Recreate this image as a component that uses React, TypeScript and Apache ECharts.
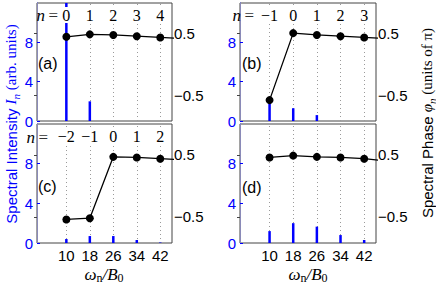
import React, { useEffect, useRef } from "react";
import * as echarts from "echarts";

// ---- data ----
const omega = [10, 18, 26, 34, 42];
const omegaPhase = [10, 18, 26, 34, 42, 50]; // last point lies beyond the axis and is clipped
const xTicks = [10, 18, 26, 34, 42];
const leftTicks = [0, 4, 8];
const rightTicks = [-0.5, 0.5];

const intensityA = [12, 2.0, 0, 0, 0];
const intensityB = [1.8, 1.3, 0.6, 0, 0];
const intensityC = [0.4, 0.7, 0.7, 0.3, 0.05];
const intensityD = [1.2, 2.0, 1.65, 0.8, 0.3];

const phaseA = [0.45, 0.49, 0.48, 0.46, 0.44, 0.42];
const phaseB = [-0.58, 0.51, 0.48, 0.46, 0.44, 0.42];
const phaseC = [-0.54, -0.52, 0.47, 0.46, 0.44, 0.42];
const phaseD = [0.46, 0.49, 0.47, 0.46, 0.44, 0.4];

const nLabelsA = ["0", "1", "2", "3", "4"];
const nLabelsB = ["\u22121", "0", "1", "2", "3"];
const nLabelsC = ["\u22122", "\u22121", "0", "1", "2"];
const nLabelsD: string[] = [];

const panelLetters = ["(a)", "(b)", "(c)", "(d)"];

const BLUE = "#0000ff";
const SANS = "Liberation Sans, Arial, sans-serif";
const SERIF = "Liberation Serif, Times New Roman, serif";

const panels = [
  { grid: { left: 37, top: 3, width: 135, height: 118 }, intensity: intensityA, phase: phaseA, n: nLabelsA, showX: false },
  { grid: { left: 240, top: 3, width: 136, height: 118 }, intensity: intensityB, phase: phaseB, n: nLabelsB, showX: false },
  { grid: { left: 37, top: 124, width: 135, height: 119 }, intensity: intensityC, phase: phaseC, n: nLabelsC, showX: true },
  { grid: { left: 240, top: 124, width: 136, height: 119 }, intensity: intensityD, phase: phaseD, n: nLabelsD, showX: true },
];

function buildOption() {
  const grid: any[] = [];
  const xAxis: any[] = [];
  const yAxis: any[] = [];
  const series: any[] = [];
  const graphic: any[] = [];

  panels.forEach((p, i) => {
    grid.push({
      ...p.grid,
      show: true,
      borderColor: "#444",
      borderWidth: 1,
      backgroundColor: "#fff",
      containLabel: false,
    });
    xAxis.push({
      type: "value",
      gridIndex: i,
      min: 0,
      max: 46,
      position: "bottom",
      axisLine: { show: false },
      axisTick: { show: false },
      splitLine: { show: false },
      axisLabel: {
        show: p.showX,
        customValues: xTicks,
        color: "#000",
        fontSize: 15,
        fontFamily: SANS,
        margin: 5,
      },
    });
    xAxis.push({
      type: "value",
      gridIndex: i,
      min: 0,
      max: 46,
      position: "top",
      axisLine: { show: false },
      axisTick: { show: false },
      splitLine: { show: false },
      axisLabel: {
        show: p.n.length > 0,
        inside: true,
        customValues: xTicks,
        formatter: (v: number) => {
          const k = xTicks.indexOf(v);
          return k >= 0 && p.n[k] !== undefined ? p.n[k] : "";
        },
        color: "#000",
        fontSize: 16,
        fontFamily: SERIF,
        backgroundColor: "#fff",
        padding: [0, 1, 0, 1],
        margin: 4,
      },
      z: 10,
    });
    yAxis.push({
      type: "value",
      gridIndex: i,
      min: 0,
      max: 12,
      position: "left",
      axisLine: { show: true, lineStyle: { color: "#3a3aff", width: 1 } },
      axisTick: { show: true, inside: true, length: 3, customValues: leftTicks, lineStyle: { color: BLUE } },
      splitLine: { show: false },
      axisLabel: {
        customValues: leftTicks,
        color: BLUE,
        fontSize: 15,
        fontFamily: SANS,
        margin: 4,
      },
    });
    yAxis.push({
      type: "value",
      gridIndex: i,
      min: -0.92,
      max: 1.0,
      position: "right",
      axisLine: { show: true, lineStyle: { color: "#8a8ab8", width: 1 } },
      axisTick: { show: true, inside: true, length: 3, customValues: rightTicks, lineStyle: { color: "#444" } },
      splitLine: { show: false },
      axisLabel: {
        customValues: rightTicks,
        formatter: (v: number) => (v < 0 ? "\u22120.5" : "0.5"),
        color: "#000",
        fontSize: 15,
        fontFamily: SANS,
        margin: 2,
      },
    });

    series.push({
      type: "bar",
      xAxisIndex: 2 * i,
      yAxisIndex: 2 * i,
      data: omega.map((x, k) => [x, p.intensity[k]]),
      barWidth: 2.5,
      itemStyle: { color: BLUE },
      silent: true,
      z: 3,
      markLine: {
        silent: true,
        symbol: ["none", "none"],
        label: { show: false },
        z: 1,
        lineStyle: { type: [1, 3], color: "#9a9a9a", width: 1 },
        data: xTicks.map((x) => ({ xAxis: x })),
      },
    });
    series.push({
      type: "line",
      xAxisIndex: 2 * i,
      yAxisIndex: 2 * i + 1,
      data: omegaPhase.map((x, k) => [x, p.phase[k]]),
      symbol: "circle",
      symbolSize: 8,
      clip: true,
      itemStyle: { color: "#000" },
      lineStyle: { color: "#000", width: 1.3 },
      silent: true,
      z: 4,
    });
  });

  const nEq = [
    { x: 58, y: 15 },
    { x: 254, y: 15 },
    { x: 48, y: 137 },
  ];
  nEq.forEach((pos) => {
    graphic.push({
      type: "text",
      x: pos.x,
      y: pos.y,
      z: 20,
      style: {
        text: "{i|n} {r|=}",
        align: "right",
        verticalAlign: "middle",
        rich: {
          i: { fontFamily: SERIF, fontStyle: "italic", fontSize: 17, fill: "#000" },
          r: { fontFamily: SERIF, fontSize: 17, fill: "#333" },
        },
      },
    });
  });

  const letterPos = [
    { x: 38, y: 63 },
    { x: 242, y: 63 },
    { x: 38, y: 186 },
    { x: 242, y: 187 },
  ];
  letterPos.forEach((pos, k) => {
    graphic.push({
      type: "text",
      x: pos.x,
      y: pos.y,
      z: 20,
      style: {
        text: panelLetters[k],
        fontFamily: SANS,
        fontSize: 16,
        fill: "#000",
        align: "left",
        verticalAlign: "middle",
      },
    });
  });

  const titleRich = (color: string) => ({
    s: { fontFamily: SANS, fontSize: 15, fill: color, lineHeight: 20, verticalAlign: "middle" },
    i: { fontFamily: SERIF, fontStyle: "italic", fontSize: 15, fill: color, lineHeight: 20, verticalAlign: "middle" },
    sub: { fontFamily: SERIF, fontStyle: "italic", fontSize: 11, fill: color, lineHeight: 20, verticalAlign: "bottom" },
    r: { fontFamily: SERIF, fontSize: 15, fill: color, lineHeight: 20, verticalAlign: "middle" },
  });

  graphic.push({
    type: "text",
    x: 11,
    y: 124,
    rotation: Math.PI / 2,
    z: 20,
    style: {
      text: "{s|Spectral Intensity }{i|I}{sub|n}{r| (arb. units)}",
      align: "center",
      verticalAlign: "middle",
      rich: titleRich(BLUE),
    },
  });

  graphic.push({
    type: "text",
    x: 427,
    y: 123,
    rotation: Math.PI / 2,
    z: 20,
    style: {
      text: "{s|Spectral Phase }{i|\u03c6}{sub|n}{r| (units of \u03c0)}",
      align: "center",
      verticalAlign: "middle",
      rich: titleRich("#000"),
    },
  });

  [104, 308].forEach((cx) => {
    graphic.push({
      type: "text",
      x: cx,
      y: 274,
      z: 20,
      style: {
        text: "{i|\u03c9}{sub|n}{r|/}{i|B}{sub|0}",
        align: "center",
        verticalAlign: "middle",
        rich: {
          i: { fontFamily: SERIF, fontStyle: "italic", fontSize: 17, fill: "#000", lineHeight: 20, verticalAlign: "middle" },
          sub: { fontFamily: SERIF, fontSize: 12, fill: "#000", lineHeight: 20, verticalAlign: "bottom" },
          r: { fontFamily: SERIF, fontStyle: "italic", fontSize: 17, fill: "#000", lineHeight: 20, verticalAlign: "middle" },
        },
      },
    });
  });

  return {
    animation: false,
    backgroundColor: "#fff",
    grid,
    xAxis,
    yAxis,
    series,
    graphic,
  };
}

export default function App() {
  const ref = useRef<HTMLDivElement>(null);
  useEffect(() => {
    document.body.style.margin = "0";
    if (!ref.current) return;
    const chart = echarts.init(ref.current, null, { renderer: "svg" });
    chart.setOption(buildOption() as any);
    return () => chart.dispose();
  }, []);
  return (
    <div
      ref={ref}
      style={{ position: "fixed", left: 0, top: 0, width: 436, height: 284, background: "#fff" }}
    />
  );
}
